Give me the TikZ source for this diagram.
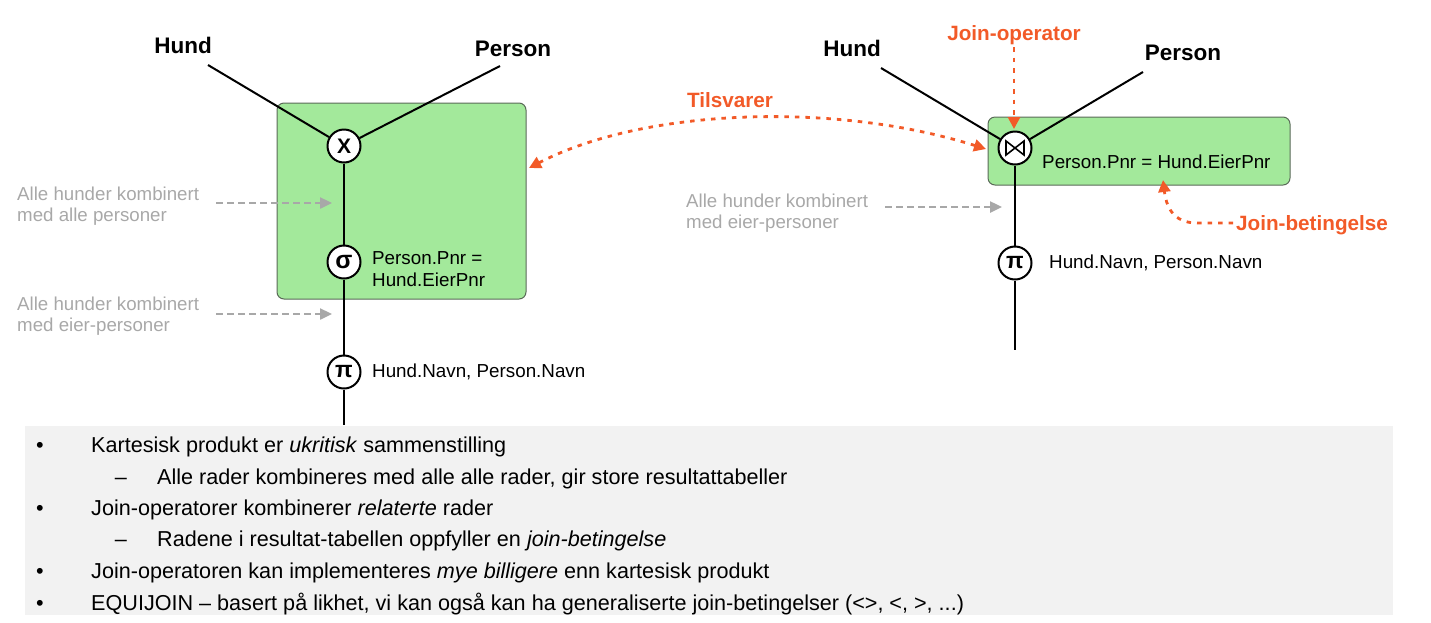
\documentclass[tikz,border=0pt]{standalone}
\usepackage{fontspec}
\setmainfont{Liberation Sans}
\usetikzlibrary{arrows.meta}
\definecolor{boxgreen}{HTML}{A3E99B}
\definecolor{boxedge}{HTML}{5A6A58}
\definecolor{hiorange}{HTML}{F25A28}
\definecolor{softgrey}{HTML}{A8A8A8}
\definecolor{panelgrey}{HTML}{F2F2F2}
\tikzset{
  opbox/.style={draw=boxedge, line width=1pt, fill=boxgreen, rounded corners=7pt},
  opcircle/.style={circle, draw, line width=2pt, fill=white, minimum size=33pt, inner sep=0pt, font=\fontsize{21}{21}\selectfont\bfseries},
  edge/.style={line width=2pt},
  rel/.style={font=\fontsize{22.5}{22.5}\selectfont\bfseries, anchor=base},
  cond/.style={font=\fontsize{18.8}{22}\selectfont, anchor=west, align=left, inner sep=0pt},
  note/.style={font=\fontsize{18.7}{21.5}\selectfont, text=softgrey, anchor=west, align=left, inner sep=0pt},
  notearrow/.style={draw=softgrey, line width=2.4pt, dash pattern=on 7pt off 4pt, -{Triangle[length=12pt,width=11pt]}},
  callout/.style={font=\fontsize{20.7}{20.7}\selectfont\bfseries, text=hiorange, anchor=base},
  hiarrow/.style={draw=hiorange, line width=2.8pt, dash pattern=on 4.5pt off 6pt, -{Triangle[length=12pt,width=12pt]}},
  bodytext/.style={font=\fontsize{21.6}{21.6}\selectfont, anchor=base west, inner sep=0pt},
  bulletmark/.style={font=\fontsize{21.6}{21.6}\selectfont, anchor=base, inner sep=0pt}
}
\begin{document}
\begin{tikzpicture}[x=1pt, y=-1pt]
\useasboundingbox (0,0) rectangle (1431,622);

% ---------- left diagram ----------
\draw[opbox] (277,103) rectangle (526,299);
\node[rel] (hundL) at (183,53) {Hund};
\node[rel] (personL) at (513,56) {Person};
\coordinate (hundLend) at (208,65);
\coordinate (personLend) at (500,66);
\node[opcircle] (cross) at (344,146) {X};
\node[opcircle] (sigma) at (344,262) {\fontsize{25}{25}\selectfont σ};
\node[opcircle] (piL) at (344,372) {\fontsize{23}{23}\selectfont π};
\coordinate (leftbottom) at (344,425);
\draw[edge] (hundLend) -- (cross);
\draw[edge] (personLend) -- (cross);
\draw[edge] (cross) -- (sigma);
\draw[edge] (sigma) -- (piL);
\draw[edge] (piL) -- (leftbottom);
\node[cond] (condL) at (372,269) {Person.Pnr =\\Hund.EierPnr};
\node[cond] (projL) at (372,372) {Hund.Navn, Person.Navn};

\node[note] (noteA) at (17,206) {Alle hunder kombinert\\med alle personer};
\node[note] (noteB) at (17,316) {Alle hunder kombinert\\med eier-personer};
\coordinate (noteAs) at (216,203);
\coordinate (noteAe) at (332,203);
\coordinate (noteBs) at (216,314);
\coordinate (noteBe) at (332,314);
\draw[notearrow] (noteAs) -- (noteAe);
\draw[notearrow] (noteBs) -- (noteBe);

% ---------- right diagram ----------
\draw[opbox] (988,117) rectangle (1290,185);
\node[rel] (hundR) at (852,56) {Hund};
\node[rel] (personR) at (1183,60) {Person};
\coordinate (hundRend) at (881,68);
\coordinate (personRend) at (1143,72);
\node[opcircle] (join) at (1015,148) {};
\draw[line width=1.6pt, line join=miter] ([xshift=-9pt,yshift=-7pt]join.center) -- ([xshift=9pt,yshift=7pt]join.center) -- ([xshift=9pt,yshift=-7pt]join.center) -- ([xshift=-9pt,yshift=7pt]join.center) -- cycle;
\node[opcircle] (piR) at (1015,263) {\fontsize{23}{23}\selectfont π};
\coordinate (rightbottom) at (1015,350);
\draw[edge] (hundRend) -- (join);
\draw[edge] (personRend) -- (join);
\draw[edge] (join) -- (piR);
\draw[edge] (piR) -- (rightbottom);
\node[cond] (condR) at (1042,162) {Person.Pnr = Hund.EierPnr};
\node[cond] (projR) at (1049,263) {Hund.Navn, Person.Navn};

\node[note] (noteC) at (686,213) {Alle hunder kombinert\\med eier-personer};
\coordinate (noteCs) at (885,207);
\coordinate (noteCe) at (1002,207);
\draw[notearrow] (noteCs) -- (noteCe);

% ---------- callouts ----------
\node[callout] (joinop) at (1014,40) {Join-operator};
\coordinate (joinopS) at (1014,47);
\coordinate (joinopE) at (1014,129);
\draw[hiarrow] (joinopS) -- (joinopE);

\node[callout] (tilsvarer) at (730,107) {Tilsvarer};
\coordinate (tilL) at (529,168);
\coordinate (tilR) at (986,149);
\draw[hiarrow, {Triangle[length=12pt,width=12pt]}-{Triangle[length=12pt,width=12pt]}] (tilL) .. controls (640,110) and (830,100) .. (tilR);

\node[callout] (joinbet) at (1312,230) {Join-betingelse};
\coordinate (jbS) at (1233,223);
\coordinate (jbE) at (1163,180);
\draw[hiarrow] (jbS) -- (1197,223) .. controls (1172,223) and (1166,205) .. (jbE);

% ---------- bottom panel ----------
\fill[panelgrey] (25,426) rectangle (1393,615);
\node[bulletmark] (b1) at (40,452) {•};
\node[bodytext] (t1) at (91,452) {Kartesisk produkt er \textit{ukritisk} sammenstilling};
\node[bulletmark] (d1) at (121,484) {–};
\node[bodytext] (t2) at (157,484) {Alle rader kombineres med alle alle rader, gir store resultattabeller};
\node[bulletmark] (b2) at (40,515) {•};
\node[bodytext] (t3) at (91,515) {Join-operatorer kombinerer \textit{relaterte} rader};
\node[bulletmark] (d2) at (121,546) {–};
\node[bodytext] (t4) at (157,546) {Radene i resultat-tabellen oppfyller en \textit{join-betingelse}};
\node[bulletmark] (b3) at (40,578) {•};
\node[bodytext] (t5) at (91,578) {Join-operatoren kan implementeres \textit{mye billigere} enn kartesisk produkt};
\node[bulletmark] (b4) at (40,610) {•};
\node[bodytext] (t6) at (91,610) {EQUIJOIN – basert på likhet, vi kan også kan ha generaliserte join-betingelser (<>, <, >, ...)};
\end{tikzpicture}
\end{document}
